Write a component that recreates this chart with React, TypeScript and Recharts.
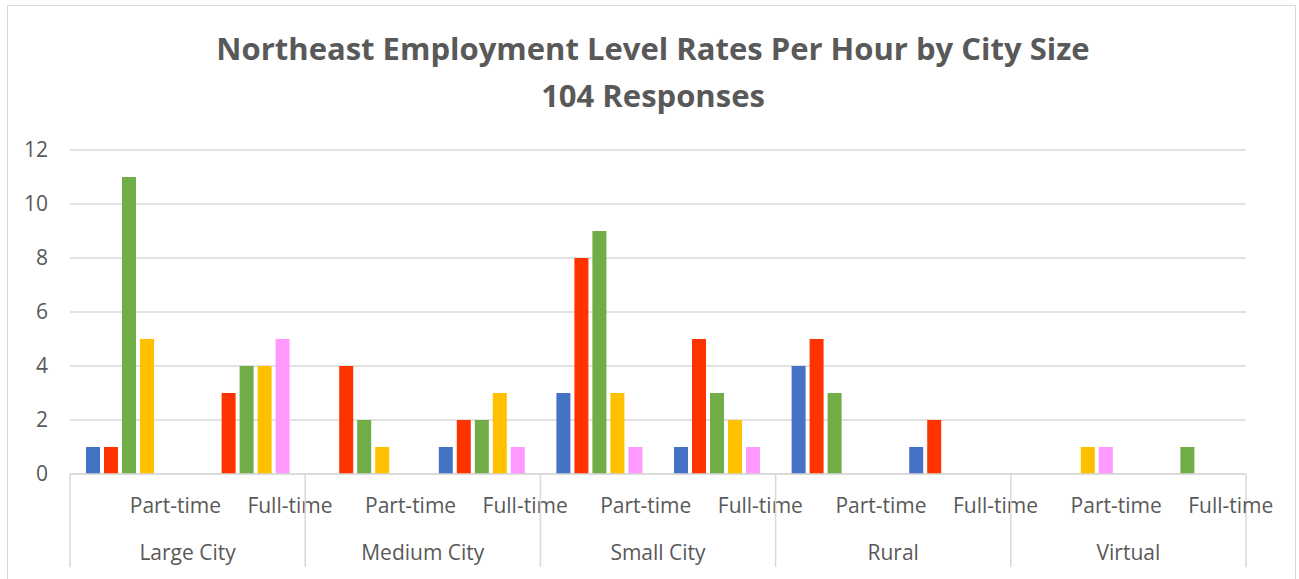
import React from "react";
import { BarChart, Bar, XAxis, YAxis, CartesianGrid } from "recharts";

const cities = ["Large City", "Medium City", "Small City", "Rural", "Virtual"];
const jobTypes = ["Part-time", "Full-time"];

// one value per (city, job type) pair, in order: Large PT, Large FT, Medium PT, ...
const series1 = [1, 0, 0, 1, 3, 1, 4, 1, 0, 0];
const series2 = [1, 3, 4, 2, 8, 5, 5, 2, 0, 0];
const series3 = [11, 4, 2, 2, 9, 3, 3, 0, 0, 1];
const series4 = [5, 4, 1, 3, 3, 2, 0, 0, 1, 0];
const series5 = [0, 5, 0, 1, 1, 1, 0, 0, 1, 0];

const yTicks = [0, 2, 4, 6, 8, 10, 12];

const seriesList = [
  { key: "s1", name: "Series 1", values: series1, color: "#4472C4" },
  { key: "s2", name: "Series 2", values: series2, color: "#FF3300" },
  { key: "s3", name: "Series 3", values: series3, color: "#70AD47" },
  { key: "s4", name: "Series 4", values: series4, color: "#FFC000" },
  { key: "s5", name: "Series 5", values: series5, color: "#FF99FF" },
];

const chartData = cities.flatMap((city, ci) =>
  jobTypes.map((type, ti) => {
    const i = ci * jobTypes.length + ti;
    const row: Record<string, string | number> = { id: `${city}|${type}`, city, type };
    seriesList.forEach((s) => {
      row[s.key] = s.values[i];
    });
    return row;
  })
);

const FONT = "'Open Sans', 'Noto Sans', sans-serif";
const TEXT = "#595959";
const LINE = "#d9d9d9";

function TwoLevelTick(props: any) {
  const { x, y, payload, index } = props;
  const half = payload?.offset ?? (1246 - 70) / chartData.length / 2;
  const row = chartData[index];
  const isFirstOfCity = index % jobTypes.length === 0;
  const isLast = index === chartData.length - 1;
  return (
    <g>
      {isFirstOfCity && (
        <line x1={x - half} x2={x - half} y1={y} y2={y + 93} stroke={LINE} strokeWidth={1.5} />
      )}
      {isLast && (
        <line x1={x + half} x2={x + half} y1={y} y2={y + 93} stroke={LINE} strokeWidth={1.5} />
      )}
      <text x={x + 1} y={y + 39} textAnchor="start" fontSize={21} fill={TEXT} fontFamily={FONT}>
        {row?.type}
      </text>
      {isFirstOfCity && (
        <text x={x + half} y={y + 86} textAnchor="middle" fontSize={21} fill={TEXT} fontFamily={FONT}>
          {row?.city}
        </text>
      )}
    </g>
  );
}

export default function App() {
  return (
    <div
      style={{
        position: "absolute",
        left: 0,
        top: 0,
        width: 1299,
        height: 579,
        overflow: "hidden",
        background: "#fff",
        fontFamily: FONT,
      }}
    >
      <div
        style={{
          position: "absolute",
          left: 7,
          top: 5,
          width: 1289,
          height: 620,
          border: `1.5px solid ${LINE}`,
          boxSizing: "border-box",
        }}
      />
      <div
        style={{
          position: "absolute",
          left: 153,
          width: 1000,
          top: 33,
          textAlign: "center",
          fontSize: 31,
          lineHeight: 1,
          fontWeight: 700,
          color: TEXT,
          whiteSpace: "nowrap",
        }}
      >
        Northeast Employment Level Rates Per Hour by City Size
      </div>
      <div
        style={{
          position: "absolute",
          left: 153,
          width: 1000,
          top: 80,
          textAlign: "center",
          fontSize: 31,
          lineHeight: 1,
          fontWeight: 700,
          color: TEXT,
        }}
      >
        104 Responses
      </div>
      <div style={{ position: "absolute", left: 0, top: 0 }}>
        <BarChart
          width={1299}
          height={579}
          data={chartData}
          margin={{ top: 150, right: 53, bottom: 0, left: 30 }}
          barSize={14}
          barGap={4}
        >
          <CartesianGrid vertical={false} stroke={LINE} strokeWidth={1.5} />
          <XAxis
            dataKey="id"
            interval={0}
            height={105}
            tickLine={false}
            tickSize={0}
            tickMargin={0}
            axisLine={{ stroke: LINE, strokeWidth: 1.5 }}
            tick={<TwoLevelTick />}
          />
          <YAxis
            width={40}
            domain={[0, 12]}
            ticks={yTicks}
            axisLine={false}
            tickLine={false}
            tickSize={0}
            tickMargin={22}
            tick={{ fontSize: 21, fill: TEXT, fontFamily: FONT }}
          />
          {seriesList.map((s) => (
            <Bar key={s.key} dataKey={s.key} name={s.name} fill={s.color} isAnimationActive={false} />
          ))}
        </BarChart>
      </div>
    </div>
  );
}
